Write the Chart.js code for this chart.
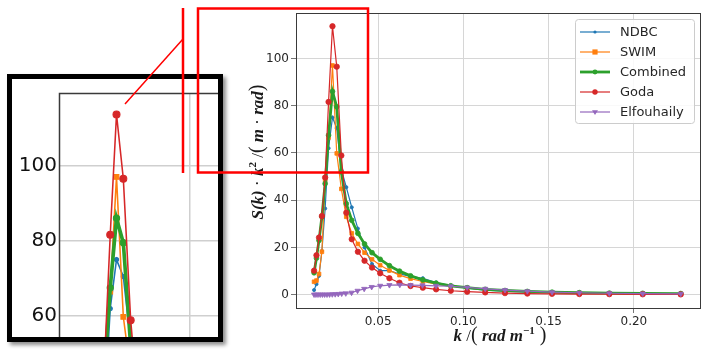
<!DOCTYPE html>
<html lang="en">
<head>
<meta charset="UTF-8">
<title>S(k) k2 spectra</title>
<script src="https://cdn.jsdelivr.net/npm/chart.js"></script>
<style>
  body { margin: 0; background: #fff; width: 709px; height: 354px; position: relative; overflow: hidden; }
  #mainChart { position: absolute; left: 0; top: 0; }
  .inset {
    position: absolute; left: 7px; top: 74px; width: 216px; height: 268px;
    border: 5px solid #000; box-sizing: border-box; overflow: hidden; background: #fff;
    box-shadow: 3px 3px 4px rgba(0, 0, 0, 0.45);
  }
  #insetChart { position: absolute; left: 0; top: 0; }
  #overlay { position: absolute; left: 0; top: 0; pointer-events: none; }
</style>
</head>
<body>
<canvas id="mainChart" width="709" height="354"></canvas>
<div class="inset"><canvas id="insetChart" width="230" height="280"></canvas></div>
<canvas id="overlay" width="709" height="354"></canvas>
<script>
// wavenumber grid shared by the measured / model spectra
const kGrid = [0.0124, 0.0138, 0.0153, 0.0170, 0.0189, 0.0209, 0.0232, 0.0257, 0.0284, 0.0313,
               0.0345, 0.0381, 0.0420, 0.0464, 0.0512, 0.0566, 0.0625, 0.0690, 0.0762, 0.0840,
               0.0926, 0.1022, 0.1128, 0.1244, 0.1375, 0.1520, 0.1680, 0.1856, 0.2052, 0.2275];
const ndbc     = [2.0, 4.5, 8.0, 18.5, 36.5, 62.0, 75.0, 70.5, 53.0, 45.5,
                  37.0, 28.0, 20.0, 13.0, 10.2, 10.2, 8.8, 7.8, 7.0, 5.2,
                  3.9, 2.8, 2.0, 1.5, 1.1, 0.9, 0.7, 0.6, 0.5, 0.4];
const swim     = [5.5, 6.0, 8.8, 18.2, 48.5, 66.5, 97.0, 59.8, 44.8, 33.0,
                  26.0, 21.5, 17.8, 15.0, 12.5, 10.3, 8.3, 6.8, 5.6, 4.5,
                  3.6, 2.9, 2.2, 1.7, 1.3, 1.0, 0.8, 0.6, 0.5, 0.4];
const combined = [9.3, 15.5, 23.0, 33.0, 47.0, 67.5, 86.0, 79.5, 52.0, 38.5,
                  31.5, 26.0, 21.5, 17.8, 15.0, 12.3, 10.0, 8.0, 6.3, 4.9,
                  3.8, 3.0, 2.3, 1.8, 1.4, 1.1, 0.9, 0.7, 0.6, 0.5];
const goda     = [10.2, 16.7, 24.2, 33.3, 49.6, 81.6, 113.6, 96.5, 58.9, 34.7,
                  23.5, 18.2, 14.4, 11.5, 9.1, 7.0, 5.1, 3.7, 3.0, 2.3,
                  1.7, 1.3, 1.0, 0.7, 0.5, 0.4, 0.3, 0.25, 0.2, 0.15];
// Elfouhaily is sampled more densely at low k
const kElf = [0.0124, 0.0135, 0.0147, 0.0160, 0.0173, 0.0186, 0.0200, 0.0215, 0.0231, 0.0248,
              0.0266, 0.0286, 0.0310, 0.0344, 0.0379, 0.0418, 0.0462, 0.0512, 0.0566, 0.0627,
              0.0690, 0.0760, 0.0840, 0.0926, 0.1022, 0.1128, 0.1244, 0.1375, 0.1520, 0.1680,
              0.1856, 0.2052, 0.2275];
const elf  = [0.1, 0.1, 0.1, 0.1, 0.1, 0.1, 0.1, 0.15, 0.2, 0.25,
              0.35, 0.5, 0.6, 0.9, 1.7, 2.5, 3.3, 3.8, 4.1, 4.2,
              4.1, 4.0, 3.8, 3.6, 3.1, 2.5, 2.0, 1.5, 1.1, 0.85,
              0.65, 0.5, 0.4];
const seriesLabels = ['NDBC', 'SWIM', 'Combined', 'Goda', 'Elfouhaily'];
const xTicks = [0.05, 0.10, 0.15, 0.20];
const yTicks = [0, 20, 40, 60, 80, 100];
const insetXTicks = [0.05];
const insetYTicks = [60, 80, 100];

Chart.defaults.font.family = "'DejaVu Sans', sans-serif";
Chart.defaults.color = '#262626';

function pts(xs, ys) {
    return xs.map((x, i) => ({ x: x, y: ys[i] }));
}

function makeDatasets(s) {
    const ds = (i, xs, ys, color, style, r, w, order, rot) => ({
        label: seriesLabels[i], data: pts(xs, ys),
        borderColor: color, backgroundColor: color,
        pointStyle: style, pointRadius: r * s, pointBorderWidth: 0.8 * s,
        pointRotation: rot || 0, borderWidth: w * s, tension: 0, order: order
    });
    return [
        ds(0, kGrid, ndbc, '#1f77b4', 'circle', 1.6, 1.2, 5),
        ds(1, kGrid, swim, '#ff7f0e', 'rect', 2.6, 1.2, 4),
        ds(2, kGrid, combined, '#2ca02c', 'circle', 2.4, 2.8, 3),
        ds(3, kGrid, goda, '#d62728', 'circle', 2.7, 1.2, 2),
        ds(4, kElf, elf, '#9467bd', 'triangle', 3.0, 1.2, 1, 180)
    ];
}

function drawMarker(ctx, style, x, y, r, rot) {
    ctx.beginPath();
    if (style === 'rect') {
        ctx.rect(x - r, y - r, 2 * r, 2 * r);
    } else if (style === 'triangle') {
        const d = rot ? 1 : -1;
        ctx.moveTo(x, y + d * r);
        ctx.lineTo(x - r, y - d * r * 0.6);
        ctx.lineTo(x + r, y - d * r * 0.6);
        ctx.closePath();
    } else {
        ctx.arc(x, y, r, 0, Math.PI * 2);
    }
    ctx.fill();
}

function drawPieces(ctx, pieces, cx, cy, angle) {
    ctx.save();
    ctx.translate(cx, cy);
    ctx.rotate(angle);
    let total = 0;
    pieces.forEach(p => { ctx.font = p.f; p.w = ctx.measureText(p.t).width; total += p.w; });
    let x = -total / 2;
    ctx.fillStyle = '#1a1a1a';
    ctx.textBaseline = 'alphabetic';
    pieces.forEach(p => { ctx.font = p.f; ctx.fillText(p.t, x, 5 + (p.dy || 0)); x += p.w; });
    ctx.restore();
}

const frame = {
    id: 'frame',
    afterDraw(chart, args, opts) {
        const a = chart.chartArea, c = chart.ctx;
        c.save();
        c.strokeStyle = '#3a3a3a';
        c.lineWidth = opts.width || 1;
        c.strokeRect(a.left + 0.5, a.top + 0.5, a.right - a.left, a.bottom - a.top);
        c.restore();
    }
};

const legendAndTitles = {
    id: 'legendAndTitles',
    afterDraw(chart) {
        const c = chart.ctx;
        c.save();
        // legend box
        c.fillStyle = 'rgba(255,255,255,0.85)';
        c.strokeStyle = '#cccccc';
        c.lineWidth = 1;
        c.beginPath();
        c.roundRect(575.5, 19.5, 119, 104, 3);
        c.fill();
        c.stroke();
        chart.data.datasets.forEach((d, i) => {
            const y = 32 + i * 20;
            c.strokeStyle = d.borderColor;
            c.lineWidth = d.borderWidth;
            c.beginPath();
            c.moveTo(580, y);
            c.lineTo(610, y);
            c.stroke();
            c.fillStyle = d.borderColor;
            drawMarker(c, d.pointStyle, 595, y, d.pointRadius, d.pointRotation);
            c.fillStyle = '#262626';
            c.font = "13px 'DejaVu Sans'";
            c.textBaseline = 'middle';
            c.fillText(d.label, 620, y + 1);
        });
        c.restore();

        const bi = "bold italic 17px 'Liberation Serif'";
        const sup = "bold 11px 'Liberation Serif'";
        const rg = "17px 'Liberation Serif'";
        const big = "20px 'Liberation Serif'";
        drawPieces(c, [
            { t: 'k', f: bi }, { t: ' /', f: rg }, { t: '(', f: big }, { t: ' rad m', f: bi },
            { t: '\u22121', f: sup, dy: -7 }, { t: ' )', f: big }
        ], 500, 336, 0);
        drawPieces(c, [
            { t: 'S(k)', f: bi }, { t: ' \u00b7 ', f: rg }, { t: 'k', f: bi }, { t: '2', f: sup, dy: -7 },
            { t: ' /', f: rg }, { t: '(', f: big }, { t: ' m', f: bi }, { t: ' \u00b7 ', f: rg },
            { t: 'rad', f: bi }, { t: ')', f: big }
        ], 258, 152, -Math.PI / 2);
    }
};

new Chart(document.getElementById('mainChart'), {
    type: 'line',
    data: { datasets: makeDatasets(1) },
    options: {
        responsive: false,
        animation: false,
        layout: { padding: { top: 13, right: 9, left: 0, bottom: 0 } },
        plugins: { legend: { display: false }, tooltip: { enabled: false }, frame: { width: 1 } },
        scales: {
            x: {
                type: 'linear', min: 0.0018, max: 0.2388,
                afterBuildTicks: s => { s.ticks = xTicks.map(v => ({ value: v })); },
                afterFit: s => { s.height = 46; },
                ticks: { font: { size: 12 }, padding: 2, callback: v => v.toFixed(2) },
                grid: { color: '#d6d6d6', tickColor: '#777', tickLength: 5 },
                border: { display: false }
            },
            y: {
                min: -5.6, max: 119.2,
                afterBuildTicks: s => { s.ticks = yTicks.map(v => ({ value: v })); },
                afterFit: s => { s.width = 296; },
                ticks: { font: { size: 12 }, padding: 2 },
                grid: { color: '#d6d6d6', tickColor: '#777', tickLength: 5 },
                border: { display: false }
            }
        }
    },
    plugins: [frame, legendAndTitles]
});

// magnified view of the peak
new Chart(document.getElementById('insetChart'), {
    type: 'line',
    data: { datasets: makeDatasets(1.3) },
    options: {
        responsive: false,
        animation: false,
        layout: { padding: { top: 11, right: 0, left: 0, bottom: 0 } },
        plugins: { legend: { display: false }, tooltip: { enabled: false }, frame: { width: 1.5 } },
        scales: {
            x: {
                type: 'linear', min: 0.0021, max: 0.0674,
                afterBuildTicks: s => { s.ticks = insetXTicks.map(v => ({ value: v })); },
                afterFit: s => { s.height = 0; },
                ticks: { display: false },
                grid: { color: '#cfcfcf', lineWidth: 1.5, drawTicks: false },
                border: { display: false }
            },
            y: {
                min: 52.3, max: 119.3,
                afterBuildTicks: s => { s.ticks = insetYTicks.map(v => ({ value: v })); },
                afterFit: s => { s.width = 47; },
                ticks: { font: { size: 20 }, color: '#111', padding: 2 },
                grid: { color: '#cfcfcf', lineWidth: 1.5, drawTicks: false },
                border: { display: false }
            }
        }
    },
    plugins: [frame]
});

// red zoom annotations on top of everything
const ov = document.getElementById('overlay').getContext('2d');
ov.strokeStyle = '#ff0000';
ov.lineWidth = 2.5;
ov.strokeRect(198, 8.5, 170, 164);
ov.beginPath();
ov.moveTo(183, 8);
ov.lineTo(183, 173);
ov.stroke();
ov.lineWidth = 1.5;
ov.beginPath();
ov.moveTo(183, 39);
ov.lineTo(125, 104);
ov.stroke();
</script>
</body>
</html>
